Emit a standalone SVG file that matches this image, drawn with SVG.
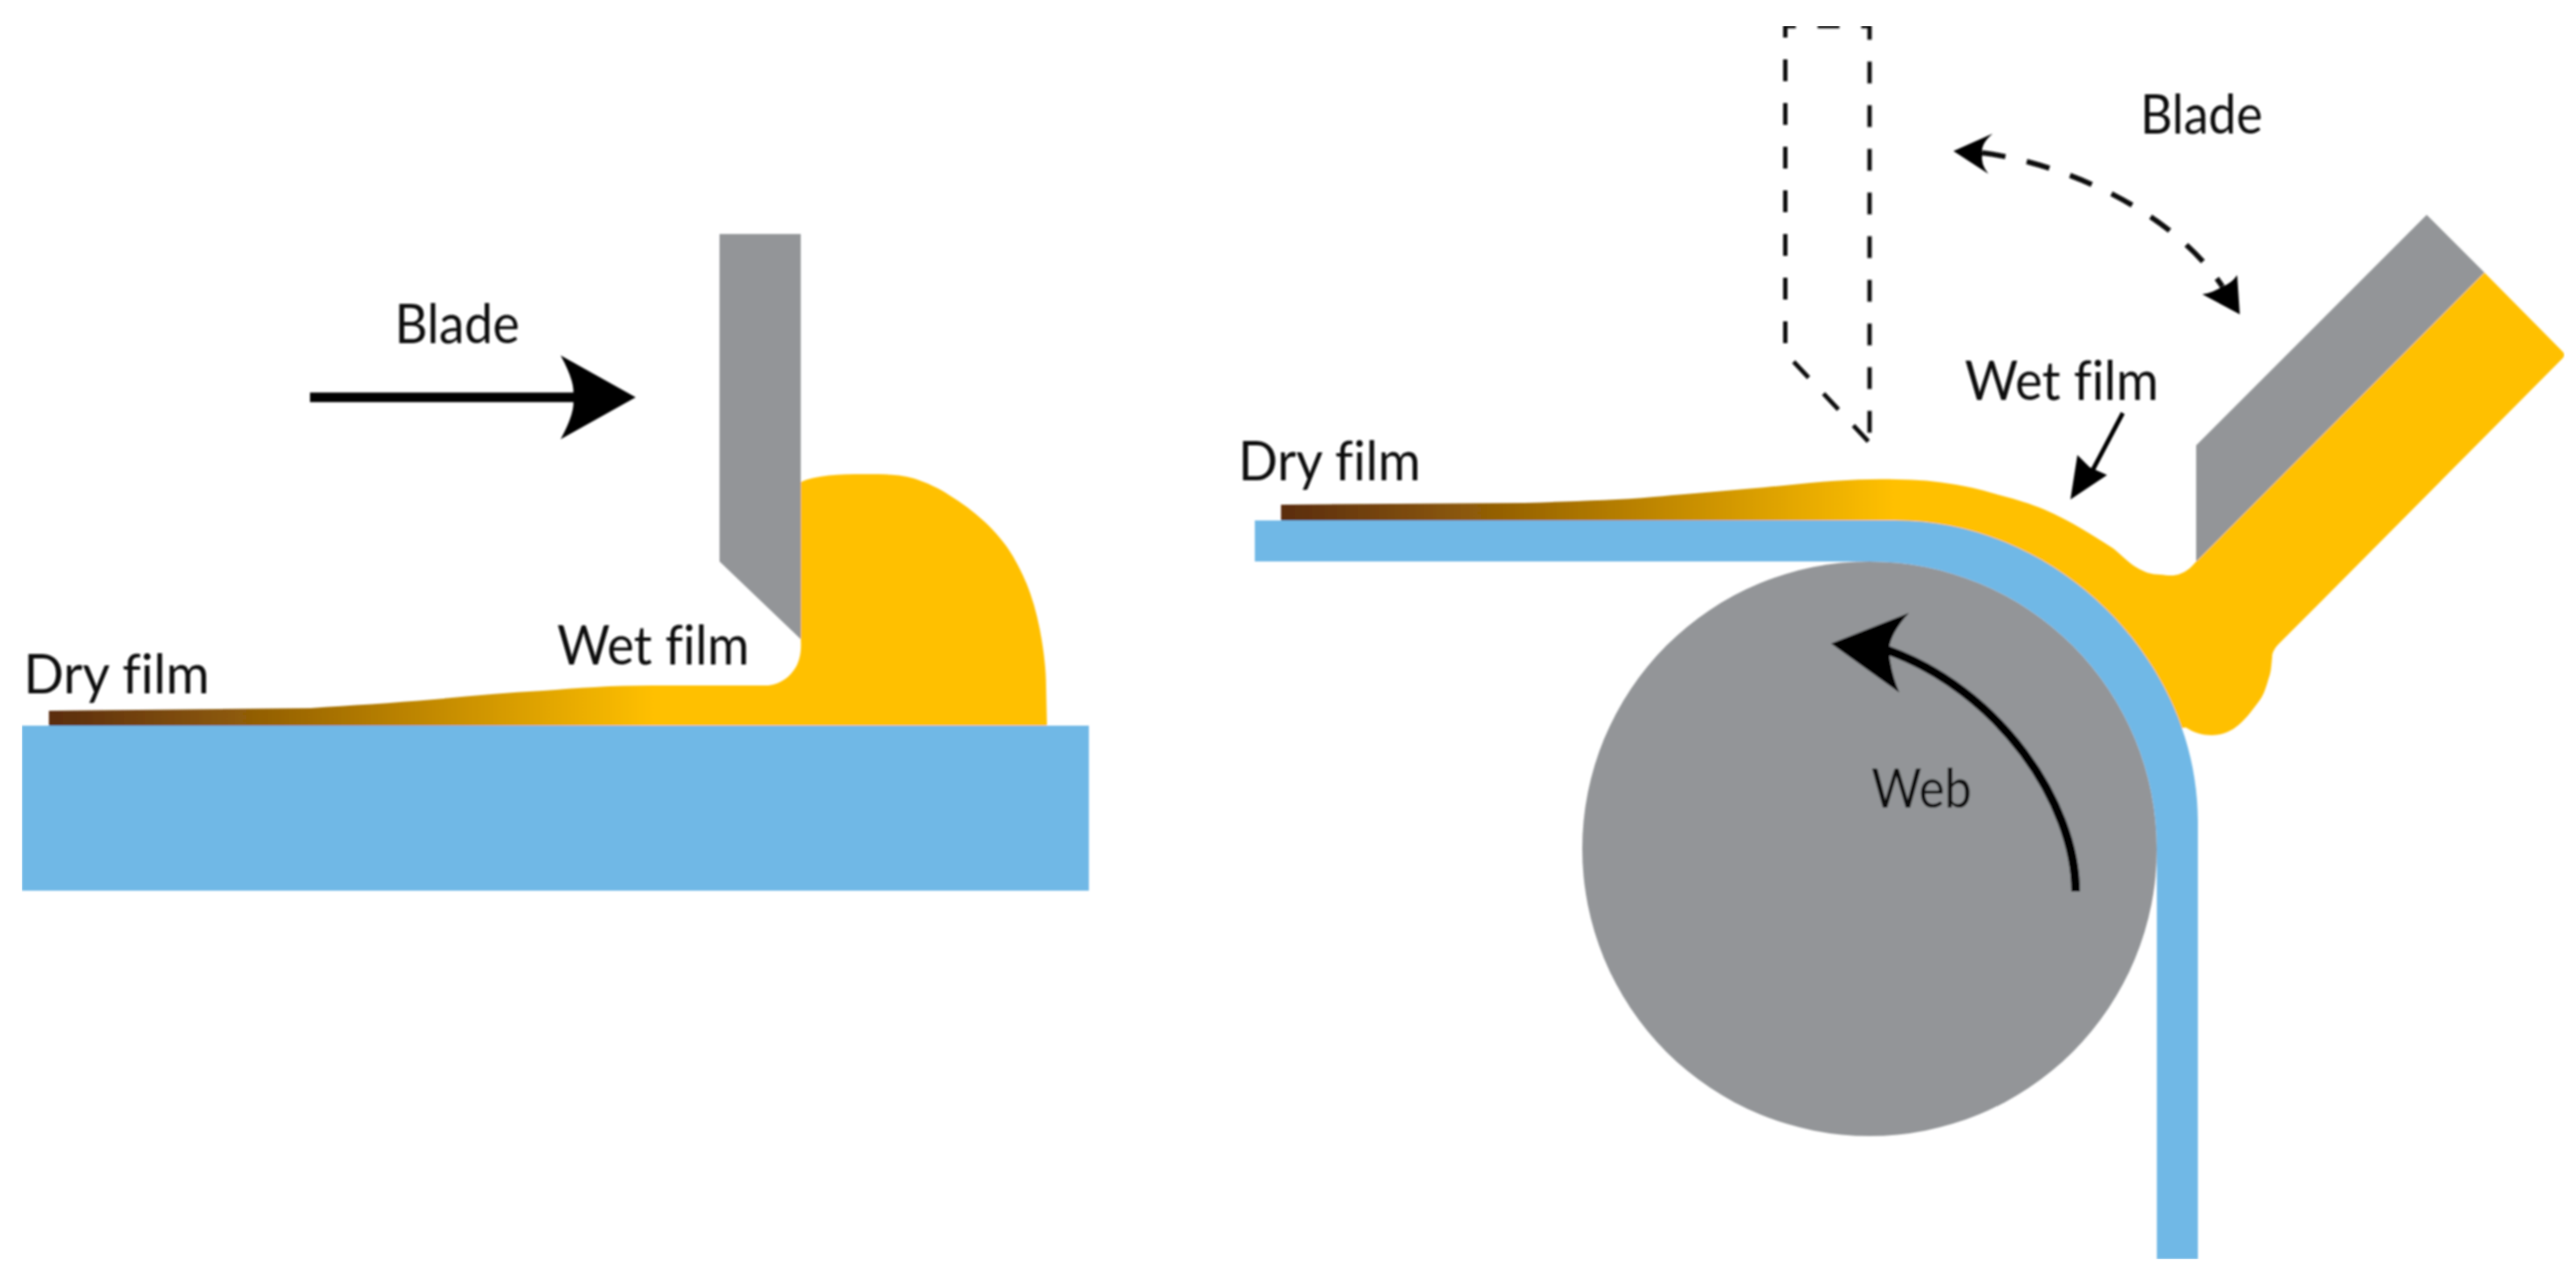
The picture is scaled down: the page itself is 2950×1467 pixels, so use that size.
<svg xmlns="http://www.w3.org/2000/svg" width="2950" height="1467" viewBox="0 0 2950 1467">
<style>
.lbl{font-family:"Lato","Liberation Sans",sans-serif;font-size:61px;fill:#111;font-variant-ligatures:none}
.gray{fill:#939598}.blue{fill:#70b8e6}
.solid{fill:none;stroke:#000;stroke-linecap:butt}
.dash{fill:none;stroke:#111;stroke-width:5;stroke-dasharray:25 25}
.head{fill:#000}
</style>
<defs>
<linearGradient id="gradL" gradientUnits="userSpaceOnUse" x1="56" y1="0" x2="750" y2="0"><stop offset="0" stop-color="#5a2c0a"/><stop offset="1" stop-color="#ffc000"/></linearGradient>
<linearGradient id="gradR" gradientUnits="userSpaceOnUse" x1="1467" y1="0" x2="2170" y2="0"><stop offset="0" stop-color="#5a2c0a"/><stop offset="1" stop-color="#ffc000"/></linearGradient>
<filter id="soft" x="0" y="0" width="100%" height="100%"><feGaussianBlur stdDeviation="1.3"/></filter>
</defs>
<rect width="2950" height="1467" fill="#fff"/>
<g filter="url(#soft)">
<g id="left-substrate"><rect class="blue" x="25" y="831" width="1222" height="189"/></g>
<g id="left-film"><path fill="url(#gradL)" d="M56,814 L356,811 C400,808 450,805 497,801 C540,797 580,793 622,791 C660,788 700,785 746,785 L880,785 C895,783 905,775 912,763 C916,755 918,745 917,732 L917,552 C935,544 960,543 990,543 C1010,543 1030,543 1047,548 C1062,553 1075,559 1087,567 C1102,576 1115,586 1127,597 C1140,609 1151,622 1160,637 C1168,651 1175,665 1180,680 C1186,697 1190,715 1193,733 C1196,751 1198,770 1198,787 L1199,831 L56,831 Z"/></g>
<g id="left-blade"><polygon class="gray" points="824,268 917,268 917,732 824,643"/></g>
<g id="right-roller"><circle class="gray" cx="2141" cy="972" r="329"/></g>
<g id="right-film"><path fill="url(#gradR)" d="M1467,578 L1746,576 C1800,574 1850,573 1894,569 C1950,564 1990,561 2043,556 C2090,551 2130,548 2171,549 C2195,549 2218,551 2240,555 C2258,558 2273,562 2290,567 C2310,572 2325,577 2340,583 C2356,590 2370,597 2383,605 C2396,613 2408,620 2420,628 C2430,636 2437,644 2447,650 C2455,655 2464,658 2473,658 C2483,659 2490,660 2497,657 C2505,654 2510,649 2515,643 L2845,312 L2934,402 Q2939,406 2934,411 L2660,687 L2610,737 C2604,743 2602,748 2602,753 C2601,762 2601,770 2598,777 C2595,787 2593,795 2587,803 C2578,815 2570,826 2560,833 C2552,839 2542,842 2533,842 C2522,842 2512,839 2503,833 L2470,840 L2350,680 L2170,620 L1467,620 Z"/></g>
<g id="right-web"><path class="blue" d="M1437,596 H2170 C2360,596 2517,760 2517,940 V1442 H2470 V972 A329,329 0 0 0 2141,643 H1437 Z"/></g>
<g id="right-blade"><polygon class="gray" points="2779,246 2845,312 2515,643 2515,510"/></g>
<g id="dashed-blade">
<path class="dash" stroke-dashoffset="12.5" d="M2094,30 H2141 V507"/>
<path class="dash" stroke-dashoffset="12.5" d="M2094,30 H2044.5 V404 L2141,507"/>
</g>
<g id="connectors">
<g id="arrow-left-blade"><line class="solid" stroke-width="11" x1="355" y1="455" x2="665" y2="455"/><path class="head" d="M728,455 L642,407 Q660,440 656,455 Q660,470 642,503 Z"/></g>
<g id="arrow-right-blade"><path class="dash" style="stroke-width:6;stroke-dasharray:27 25" d="M2270,175 C2370,188 2490,245 2545,328"/><path class="head" d="M2237,173 L2282,153 Q2268,165 2270,176 Q2268,188 2277,199 Z"/><path class="head" d="M2565,360 L2562,315 Q2555,325 2545,328 Q2535,335 2522,337 Z"/></g>
<g id="arrow-wet-film"><line class="solid" stroke-width="5" x1="2431" y1="473" x2="2393" y2="545"/><polygon class="head" points="2371,572 2379,521 2393,535 2413,544"/></g>
<g id="arrow-web"><path class="solid" stroke-width="10" d="M2377,1021 C2377,920 2290,790 2160,744"/><path class="head" d="M2097,737 L2186,702 Q2165,725 2163,744 Q2165,770 2175,793 Z"/></g>
</g>
<g id="labels">
<text class="lbl" x="452" y="393" textLength="143" lengthAdjust="spacingAndGlyphs">Blade</text>
<text class="lbl" x="638" y="761" textLength="220" lengthAdjust="spacingAndGlyphs">Wet film</text>
<text class="lbl" x="27" y="794" textLength="213" lengthAdjust="spacingAndGlyphs">Dry film</text>
<text class="lbl" x="2451" y="153" textLength="140" lengthAdjust="spacingAndGlyphs">Blade</text>
<text class="lbl" x="2250" y="458" textLength="222" lengthAdjust="spacingAndGlyphs">Wet film</text>
<text class="lbl" x="1418" y="550" textLength="209" lengthAdjust="spacingAndGlyphs">Dry film</text>
<text class="lbl" x="2143" y="925" textLength="115" lengthAdjust="spacingAndGlyphs">Web</text>
</g>
</g>
</svg>
